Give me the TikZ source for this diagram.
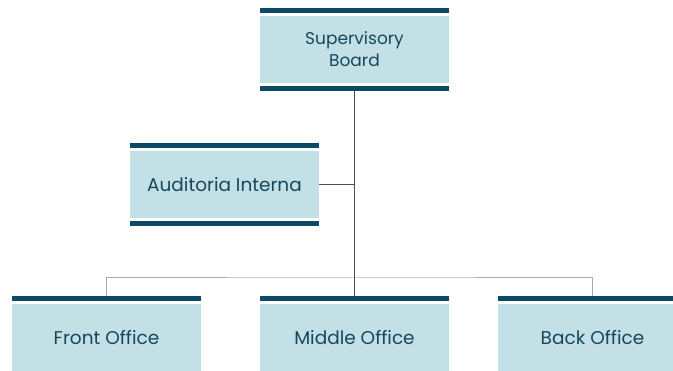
\documentclass[tikz,border=0pt]{standalone}
\usepackage{fontspec}
\setmainfont{Poppins}
\definecolor{boxfill}{HTML}{C2E0E5}
\definecolor{barblue}{HTML}{0B4A64}
\definecolor{txtblue}{HTML}{17475E}
\definecolor{trunkgray}{HTML}{4A4F55}
\definecolor{branchgray}{HTML}{A8A8A8}
\begin{document}
\begin{tikzpicture}[x=1pt,y=-1pt,
  box/.style={fill=boxfill, minimum width=189pt, minimum height=67pt, inner sep=0pt,
    text=txtblue, font=\fontsize{18.5}{22}\selectfont, align=center},
  bar/.style={fill=barblue, minimum width=189pt, minimum height=5pt, inner sep=0pt},
  trunk/.style={draw=trunkgray, line width=0.9pt},
  branch/.style={draw=branchgray, line width=1pt}]
\useasboundingbox (0,0) rectangle (673,371);

% Supervisory Board
\node[bar] (sbtop) at (354.5,10.5) {};
\node[box, font=\fontsize{17}{22}\selectfont] (sb) at (354.5,49.5) {Supervisory\\Board};
\node[bar] (sbbot) at (354.5,88.5) {};

% Auditoria Interna
\node[bar] (aitop) at (224.5,145.5) {};
\node[box] (ai) at (224.5,184.5) {Auditoria Interna};
\node[bar] (aibot) at (224.5,223.5) {};

% Bottom row
\node[bar] (fotop) at (106.5,298.5) {};
\node[box] (fo) at (106.5,337.5) {Front Office};
\node[bar] (motop) at (354.5,298.5) {};
\node[box] (mo) at (354.5,337.5) {Middle Office};
\node[bar] (botop) at (592.5,298.5) {};
\node[box] (bo) at (592.5,337.5) {Back Office};

% Connectors
\coordinate (hub) at (354.5,278);
\draw[branch] (fotop.north) |- (hub) -| (botop.north);
\draw[trunk] (sbbot.south) -- (motop.north);
\draw[trunk] (ai.east) -- (ai.east -| sbbot.south);
\end{tikzpicture}
\end{document}
